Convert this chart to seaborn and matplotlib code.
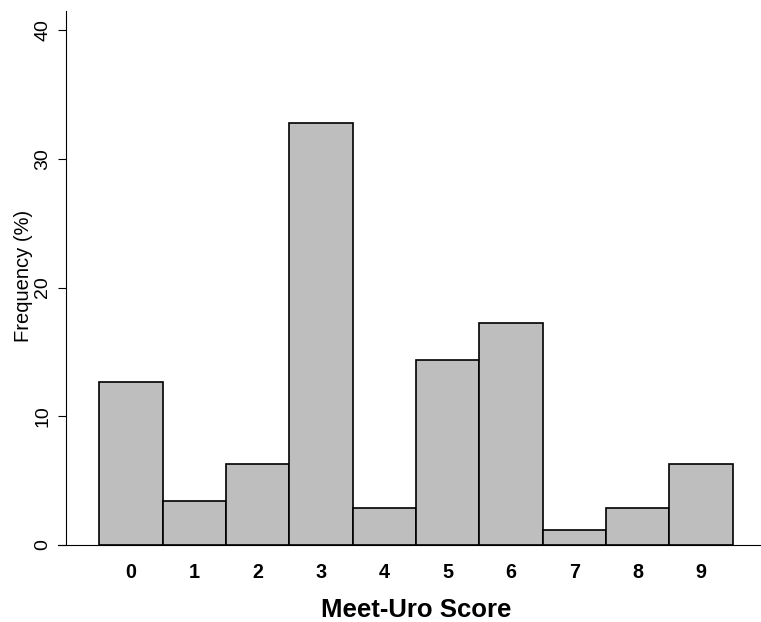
import matplotlib
matplotlib.use("Agg")
import matplotlib.pyplot as plt
import seaborn as sns
import pandas as pd

scores = ["0", "1", "2", "3", "4", "5", "6", "7", "8", "9"]
frequency = [12.64, 3.45, 6.32, 32.76, 2.87, 14.37, 17.24, 1.15, 2.87, 6.32]
y_ticks = [0, 10, 20, 30, 40]

df = pd.DataFrame({"score": scores, "freq": frequency})

sns.set_style("white")
plt.rcParams["font.family"] = ["Liberation Sans", "DejaVu Sans"]

fig = plt.figure(figsize=(7.61, 6.22), dpi=100)
ax = fig.add_axes([58 / 761, 77 / 622, 703 / 761, 534.3 / 622])

sns.barplot(data=df, x="score", y="freq", order=scores, color="#BEBEBE",
            saturation=1, edgecolor="black", linewidth=1.2, width=1.0, ax=ax)

ax.set_xlim(-1.152, 9.947)
ax.set_ylim(0, 41.5)

for s in ["top", "right"]:
    ax.spines[s].set_visible(False)
ax.spines["left"].set_position(("data", -1.03))
ax.spines["left"].set_bounds(0, 41.5)
for s in ["left", "bottom"]:
    ax.spines[s].set_color("black")
    ax.spines[s].set_linewidth(0.8)

ax.set_yticks(y_ticks)
ax.set_yticklabels([str(t) for t in y_ticks], rotation=90, va="center", fontsize=14)
ax.tick_params(axis="y", left=True, length=5.5, width=0.8, color="black", pad=5.0, labelcolor="black")
ax.tick_params(axis="x", bottom=False, length=0, pad=12.8, labelsize=14.2, labelcolor="black")
for lbl in ax.get_xticklabels():
    lbl.set_fontweight("bold")

ax.set_xlabel("Meet-Uro Score", fontsize=18.5, fontweight="bold", color="black")
ax.xaxis.set_label_coords((416 - 58) / 703, (545 - 598) / 534.3)
ax.set_ylabel("Frequency (%)", fontsize=14.5, color="black")
ax.yaxis.set_label_coords((33 - 58) / 703, (545 - 276) / 534.3)

fig.savefig("out.png", dpi=100, facecolor="white")
